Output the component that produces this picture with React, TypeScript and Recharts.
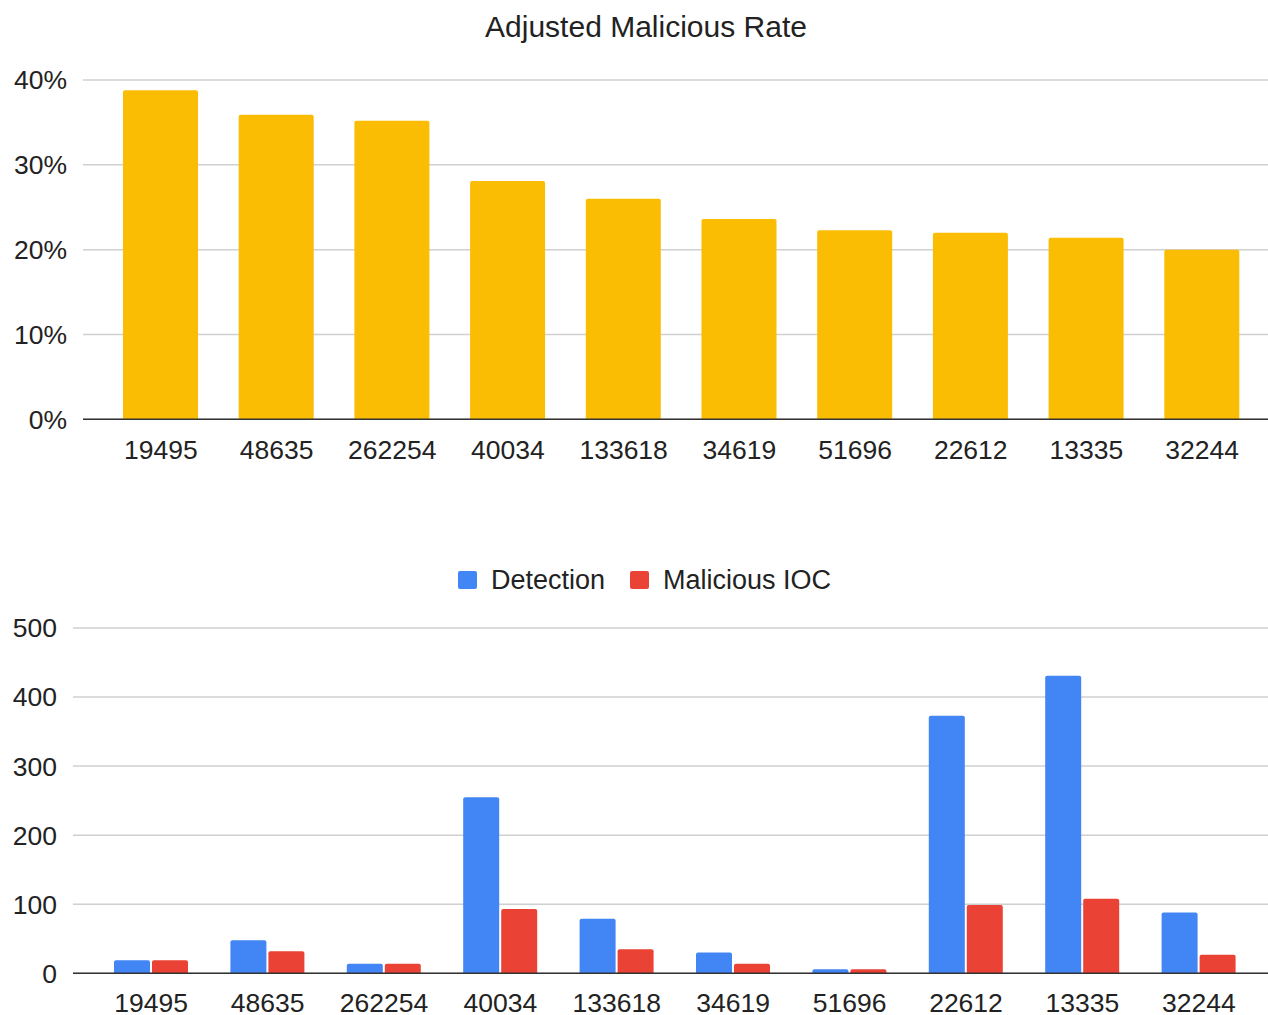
import React from 'react';
import { BarChart, Bar, XAxis, YAxis, CartesianGrid } from 'recharts';

const categories = ['19495', '48635', '262254', '40034', '133618', '34619', '51696', '22612', '13335', '32244'];
const adjustedRate = [0.388, 0.359, 0.352, 0.281, 0.26, 0.236, 0.223, 0.22, 0.214, 0.2];
const detection = [19, 48, 14, 255, 79, 30, 6, 373, 431, 88];
const maliciousIOC = [19, 32, 14, 93, 35, 14, 6, 99, 108, 27];
const rateTicks = [0, 0.1, 0.2, 0.3, 0.4];
const countTicks = [0, 100, 200, 300, 400, 500];
const seriesNames = ['Detection', 'Malicious IOC'];

const FONT = '"Liberation Sans", Arial, sans-serif';
const TEXT = '#222222';
const YELLOW = '#FBBC04';
const BLUE = '#4285F4';
const RED = '#EA4335';
const GRID = '#d0d0d0';
const AXIS = '#333333';

const rateData = categories.map((c, i) => ({ name: c, rate: adjustedRate[i] }));
const countData = categories.map((c, i) => ({ name: c, detection: detection[i], ioc: maliciousIOC[i] }));

const tickStyle = { fill: TEXT, fontSize: 26.5, fontFamily: FONT };

export default function App() {
  return (
    <div style={{ position: 'absolute', left: 0, top: 0, width: 1268, height: 1015, background: '#fff', fontFamily: FONT, overflow: 'hidden' }}>
      <svg width={1268} height={60} style={{ position: 'absolute', left: 0, top: 0 }}>
        <text x={646} y={37} textAnchor="middle" fontSize={30} fontFamily={FONT} fill={TEXT}>
          Adjusted Malicious Rate
        </text>
      </svg>
      <div style={{ position: 'absolute', left: 0, top: 0 }}>
        <BarChart width={1268} height={480} data={rateData} margin={{ top: 80, right: 0, bottom: 0, left: 0 }}>
          <CartesianGrid vertical={false} stroke={GRID} strokeWidth={1.5} />
          <XAxis
            dataKey="name"
            height={60.7}
            tickLine={false}
            tickSize={0}
            tickMargin={21}
            axisLine={{ stroke: AXIS, strokeWidth: 1.5 }}
            tick={tickStyle}
            padding={{ left: 20, right: 8 }}
            interval={0}
          />
          <YAxis
            width={83}
            domain={[0, 0.4]}
            ticks={rateTicks}
            tickFormatter={(v: number) => `${Math.round(v * 100)}%`}
            axisLine={false}
            tickLine={false}
            tickSize={0}
            tickMargin={16}
            tick={tickStyle}
          />
          <Bar dataKey="rate" fill={YELLOW} barSize={75} radius={[2, 2, 0, 0]} isAnimationActive={false} />
        </BarChart>
      </div>

      <div style={{ position: 'absolute', left: 0, top: 562, height: 36 }}>
        {seriesNames.map((s, i) => (
          <div
            key={s}
            style={{ position: 'absolute', left: i === 0 ? 458 : 630, top: 0, height: 36, display: 'flex', alignItems: 'center', whiteSpace: 'nowrap' }}
          >
            <span style={{ display: 'inline-block', width: 19, height: 18, borderRadius: 2, background: i === 0 ? BLUE : RED, marginRight: 14 }} />
            <span style={{ fontSize: 27, color: TEXT, fontFamily: FONT, lineHeight: '36px' }}>{s}</span>
          </div>
        ))}
      </div>

      <div style={{ position: 'absolute', left: 0, top: 520 }}>
        <BarChart width={1268} height={494} data={countData} margin={{ top: 108, right: 0, bottom: 0, left: 0 }} barGap={2}>
          <CartesianGrid vertical={false} stroke={GRID} strokeWidth={1.5} />
          <XAxis
            dataKey="name"
            height={40.7}
            tickLine={false}
            tickSize={0}
            tickMargin={20}
            axisLine={{ stroke: AXIS, strokeWidth: 1.5 }}
            tick={tickStyle}
            padding={{ left: 20, right: 11 }}
            interval={0}
          />
          <YAxis
            width={73}
            domain={[0, 500]}
            ticks={countTicks}
            axisLine={false}
            tickLine={false}
            tickSize={0}
            tickMargin={16}
            tick={tickStyle}
          />
          <Bar dataKey="detection" name={seriesNames[0]} fill={BLUE} barSize={36} radius={[2, 2, 0, 0]} isAnimationActive={false} />
          <Bar dataKey="ioc" name={seriesNames[1]} fill={RED} barSize={36} radius={[2, 2, 0, 0]} isAnimationActive={false} />
        </BarChart>
      </div>
    </div>
  );
}
